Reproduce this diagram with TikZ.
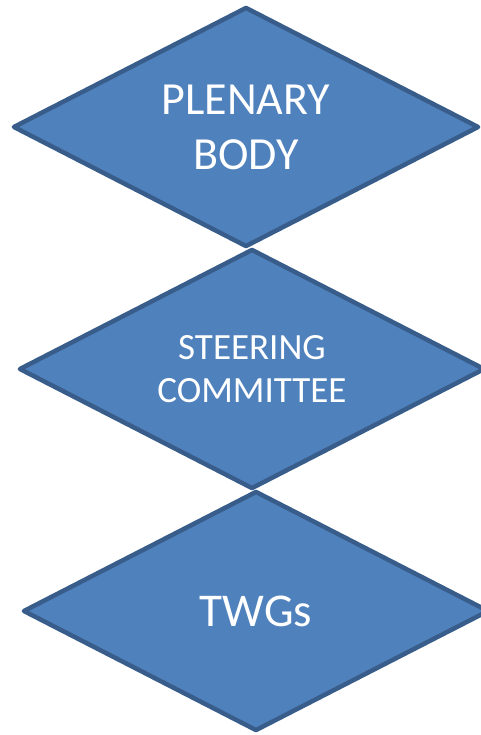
\documentclass[tikz,border=0pt]{standalone}
\usepackage{fontspec}
\setmainfont{Carlito}
\usetikzlibrary{shapes.geometric}
\definecolor{boxfill}{HTML}{4F81BD}
\definecolor{boxline}{HTML}{385D8A}
\tikzset{
  level/.style={diamond, draw=boxline, fill=boxfill, line width=4.5pt,
    line join=round, inner sep=0pt, aspect=1.93,
    minimum width=466pt, minimum height=240pt,
    text=white, align=center}
}
\begin{document}
\begin{tikzpicture}[x=1pt,y=-1pt]
        \clip (0,0) rectangle (481,735);
        \node[level, font=\fontsize{46}{55}\selectfont] (P) at (246,127) {PLENARY\\BODY};
        \node[level, font=\fontsize{37}{43}\selectfont] (S) at (252,369) {STEERING\\COMMITTEE};
        \node[level, font=\fontsize{47}{55}\selectfont] (T) at (256,611) {TWGs};
    \end{tikzpicture}
\end{document}
